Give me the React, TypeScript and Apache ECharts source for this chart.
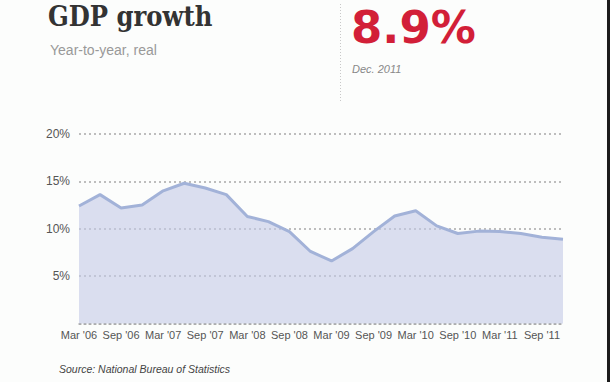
import React, { useEffect, useRef } from "react";
import * as echarts from "echarts";

const categories = [
  "Mar '06", "Jun '06", "Sep '06", "Dec '06",
  "Mar '07", "Jun '07", "Sep '07", "Dec '07",
  "Mar '08", "Jun '08", "Sep '08", "Dec '08",
  "Mar '09", "Jun '09", "Sep '09", "Dec '09",
  "Mar '10", "Jun '10", "Sep '10", "Dec '10",
  "Mar '11", "Jun '11", "Sep '11", "Dec '11",
];
const gdpGrowth = [
  12.4, 13.6, 12.2, 12.5,
  14.0, 14.8, 14.3, 13.6,
  11.3, 10.75, 9.7, 7.6,
  6.6, 7.9, 9.7, 11.35,
  11.9, 10.3, 9.5, 9.75,
  9.7, 9.5, 9.1, 8.9,
];
const yTicks = [0, 5, 10, 15, 20];

export default function App() {
  const ref = useRef<HTMLDivElement>(null);
  useEffect(() => {
    if (!ref.current) return;
    const chart = echarts.init(ref.current, null, { renderer: "svg" });
    chart.setOption({
      animation: false,
      backgroundColor: "#fcfdfc",
      grid: { left: 79, right: 47, top: 134, bottom: 58.5 },
      xAxis: {
        type: "category",
        data: categories,
        boundaryGap: false,
        axisLine: {
          show: true,
          lineStyle: { color: "#a8a8a8", type: [2, 3], width: 1.5 },
        },
        axisTick: { show: false },
        splitLine: { show: false },
        axisLabel: {
          interval: 1,
          color: "#555",
          fontSize: 11,
          fontFamily: "Liberation Sans, Arial, sans-serif",
          margin: 6,
        },
      },
      yAxis: {
        type: "value",
        min: yTicks[0],
        max: yTicks[yTicks.length - 1],
        interval: 5,
        axisLine: { show: false },
        axisTick: { show: false },
        axisLabel: {
          color: "#555",
          fontSize: 12,
          fontFamily: "Liberation Sans, Arial, sans-serif",
          margin: 9,
          formatter: (v: number) => (v === 0 ? "" : v + "%"),
        },
        splitLine: {
          lineStyle: { color: "#a8a8a8", type: [2, 3], width: 1.5 },
        },
      },
      series: [
        {
          type: "line",
          data: gdpGrowth,
          symbol: "none",
          lineStyle: { color: "#a2b2d8", width: 3 },
          areaStyle: { color: "#c3c9e6", opacity: 0.6 },
          z: 1,
        },
      ],
      graphic: [
        {
          type: "rect",
          shape: { x: 607, y: 0, width: 3, height: 382 },
          style: { fill: "#1c1c1c" },
        },
        {
          type: "text",
          x: 48,
          y: 3,
          style: {
            text: "GDP growth",
            fill: "#333",
            font: "bold 27px 'DejaVu Serif Condensed', 'DejaVu Serif', serif",
          },
        },
        {
          type: "text",
          x: 50,
          y: 43,
          style: {
            text: "Year-to-year, real",
            fill: "#999",
            font: "14px 'Liberation Sans Narrow', 'Liberation Sans', sans-serif",
          },
        },
        {
          type: "line",
          shape: { x1: 340.5, y1: 4, x2: 340.5, y2: 102 },
          style: { stroke: "#c8c8c8", lineWidth: 1, lineDash: [1, 2] },
        },
        {
          type: "text",
          x: 351,
          y: 5,
          style: {
            text: "8.9%",
            fill: "#d21f38",
            font: "bold 45px 'DejaVu Sans', sans-serif",
          },
        },
        {
          type: "text",
          x: 352,
          y: 63,
          style: {
            text: "Dec. 2011",
            fill: "#888",
            font: "italic 11px 'Liberation Sans', Arial, sans-serif",
          },
        },
        {
          type: "text",
          x: 59,
          y: 363,
          style: {
            text: "Source: National Bureau of Statistics",
            fill: "#444",
            font: "italic 10.5px 'Liberation Sans', Arial, sans-serif",
          },
        },
      ],
    });
    return () => chart.dispose();
  }, []);
  return (
    <div
      ref={ref}
      style={{ position: "fixed", left: 0, top: 0, width: 610, height: 382 }}
    />
  );
}
